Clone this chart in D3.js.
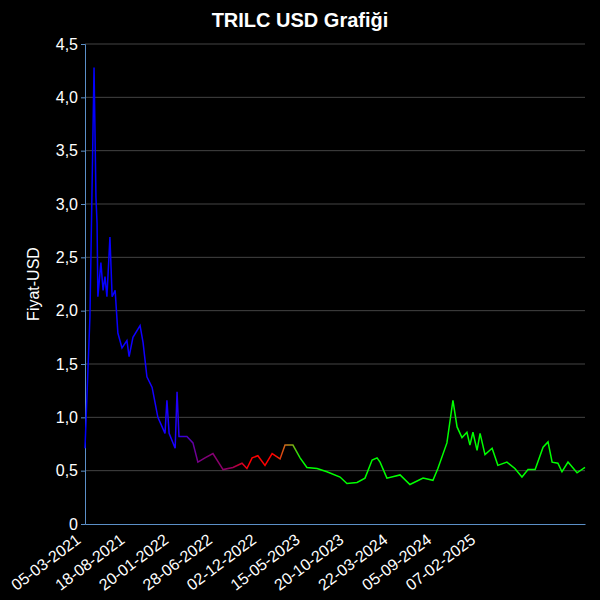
<!DOCTYPE html>
<html><head><meta charset="utf-8">
<script src="https://cdn.jsdelivr.net/npm/d3@7"></script>
<style>body{margin:0;background:#000}</style></head>
<body><svg id="c" width="600" height="600"></svg>
<script>
const days = [0,18,33,40,44,47,58,66,73,80,91,99,110,120,135,153,161,175,201,212,226,245,266,292,299,307,329,336,343,372,394,412,438,467,504,540,573,591,610,631,657,683,712,730,759,785,810,847,883,931,956,993,1022,1048,1066,1077,1102,1150,1186,1234,1270,1288,1321,1343,1358,1376,1394,1405,1416,1431,1442,1460,1486,1507,1540,1569,1595,1617,1643,1672,1690,1705,1726,1741,1763,1796,1825];
const prices = [0.71,1.94,4.28,3.06,2.82,2.13,2.45,2.19,2.32,2.13,2.69,2.13,2.19,1.79,1.65,1.72,1.57,1.75,1.86,1.70,1.38,1.28,1.00,0.85,1.16,0.85,0.71,1.24,0.82,0.82,0.76,0.58,0.62,0.66,0.51,0.53,0.57,0.52,0.62,0.64,0.55,0.66,0.61,0.74,0.74,0.62,0.53,0.52,0.49,0.44,0.38,0.39,0.43,0.60,0.62,0.58,0.43,0.46,0.37,0.43,0.41,0.52,0.76,1.16,0.91,0.81,0.86,0.74,0.86,0.69,0.85,0.65,0.71,0.55,0.58,0.52,0.44,0.51,0.51,0.72,0.77,0.58,0.57,0.49,0.58,0.48,0.53];
const tickLabels = ["05-03-2021","18-08-2021","20-01-2022","28-06-2022","02-12-2022","15-05-2023","20-10-2023","22-03-2024","05-09-2024","07-02-2025"];
const yTicks = [0,0.5,1,1.5,2,2.5,3,3.5,4,4.5];

const svg = d3.select("#c");
const m = {l:85,r:15,t:44,b:76};
const W=600,H=600;
const x = d3.scaleLinear().domain([0,1825]).range([m.l,W-m.r]);
const y = d3.scaleLinear().domain([0,4.5]).range([H-m.b,m.t]);
svg.append("rect").attr("width",W).attr("height",H).attr("fill","#000");

const grad = svg.append("defs").append("linearGradient").attr("id","g")
  .attr("gradientUnits","userSpaceOnUse").attr("x1",x(0)).attr("x2",x(1825)).attr("y1",0).attr("y2",0);
[[0,"#0000ff"],[330,"#1a00ff"],[420,"#800080"],[530,"#900060"],[600,"#ff0000"],[690,"#ff0000"],[740,"#c08020"],[790,"#00ff00"],[1825,"#00ff00"]]
 .forEach(([d,c])=>grad.append("stop").attr("offset",d/1825).attr("stop-color",c));

svg.append("g").selectAll("line").data(yTicks.slice(1)).join("line")
  .attr("x1",m.l).attr("x2",W-m.r).attr("y1",d=>y(d)).attr("y2",d=>y(d))
  .attr("stroke","#444").attr("stroke-width",1);

const fmt = d => d===0 ? "0" : d.toFixed(1).replace(".",",");
const ya = svg.append("g").attr("transform",`translate(${m.l},0)`)
  .call(d3.axisLeft(y).tickValues(yTicks).tickSize(4).tickFormat(fmt));
ya.select(".domain").attr("stroke","#5b8fc7");
ya.selectAll("line").attr("stroke","#5b8fc7");
ya.selectAll("text").attr("fill","#fff").attr("font-size",16).attr("font-family","Liberation Sans, Arial");

const tv = tickLabels.map((_,i)=>i*160);
const xa = svg.append("g").attr("transform",`translate(0,${H-m.b})`)
  .call(d3.axisBottom(x).tickValues(tv).tickSize(0).tickFormat((d,i)=>tickLabels[i]));
xa.select(".domain").attr("stroke","#5b8fc7");
xa.selectAll("text").attr("fill","#fff").attr("font-size",16).attr("font-family","Liberation Sans, Arial")
  .attr("text-anchor","end").attr("transform","translate(-14,4) rotate(-37)").attr("dy","0.9em").attr("dx","0");

const pts = days.map((d,i)=>[d,prices[i]]);
svg.append("path").datum(pts)
  .attr("d",d3.line().x(d=>x(d[0])).y(d=>y(d[1])))
  .attr("fill","none").attr("stroke","url(#g)").attr("stroke-width",1.5);

svg.append("text").attr("x",300).attr("y",27).attr("text-anchor","middle")
  .attr("fill","#fff").attr("font-size",20).attr("font-weight","bold")
  .attr("font-family","Liberation Sans, Arial").text("TRILC USD Grafiği");
svg.append("text").attr("transform","translate(39,284) rotate(-90)").attr("text-anchor","middle")
  .attr("fill","#fff").attr("font-size",16).attr("font-family","Liberation Sans, Arial").text("Fiyat-USD");
</script></body></html>
